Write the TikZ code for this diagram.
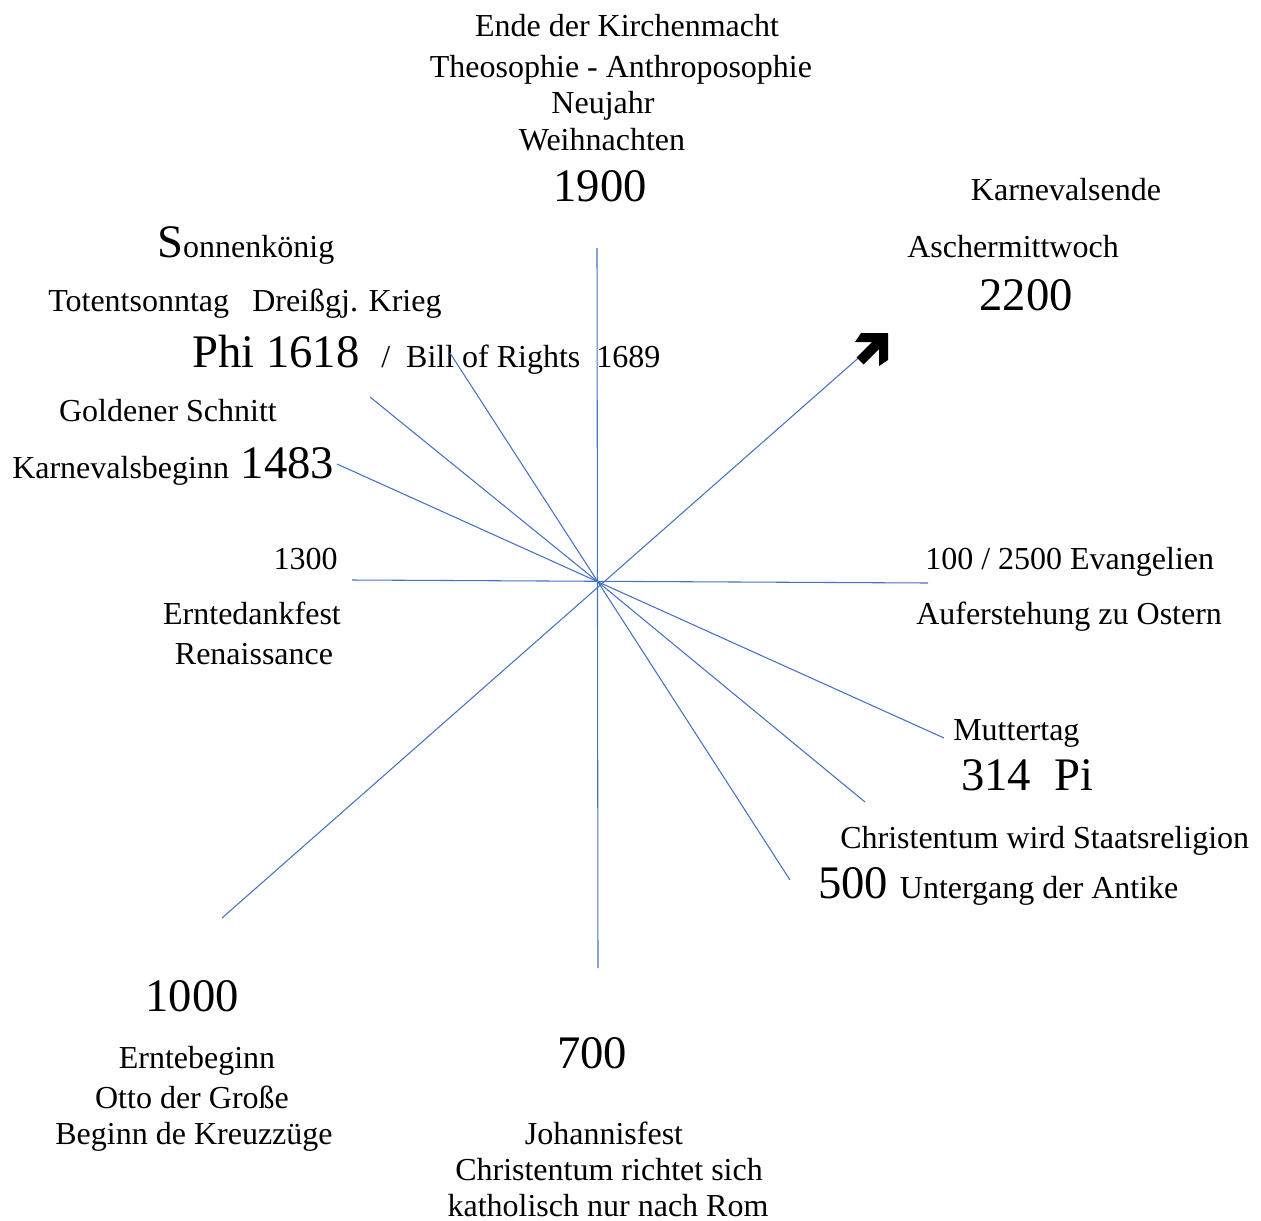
\documentclass[tikz,border=0pt]{standalone}
\usepackage{fontspec}
\setmainfont{Liberation Serif}
\usepackage{xcolor}
\usepackage{tikz}
\usetikzlibrary{positioning}
\usetikzlibrary{calc}

\definecolor{rayblue}{RGB}{68,114,196}
\newcommand{\bigtxt}{\fontsize{35}{40}\selectfont}

\begin{document}
\begin{tikzpicture}[x=0.75pt, y=-0.75pt, txt/.style={font=\fontsize{24}{28}\selectfont, inner sep=0pt, anchor=base}, num/.style={font=\bigtxt, inner sep=0pt, anchor=base}, ray/.style={draw=rayblue, line width=0.8pt}]
	\useasboundingbox (0,0) rectangle (1261,1221);
	% top
	\node[txt] (kirche) at (627,36) {Ende der Kirchenmacht};
	\node[txt] (theo) at (621,77) {Theosophie - Anthroposophie};
	\node[txt] (neujahr) at (603,113) {Neujahr};
	\node[txt] (weihn) at (602,150) {Weihnachten};
	\node[num] (y1900) at (600,201) {1900};
	% upper right
	\node[txt] (kende) at (1066,200) {Karnevalsende};
	\node[txt] (ascher) at (1013,257) {Aschermittwoch};
	\node[num] (y2200) at (1026,310) {2200};
	% upper left
	\node[txt, anchor=base west] (sonne) at (157,257) {{\bigtxt S}onnenkönig};
	\node[txt, anchor=base west] (toten) at (48,311) {Totentsonntag};
	\node[txt, anchor=base west] (krieg) at (252,311) {Dreißgj. Krieg};
	\node[num, anchor=base west] (y1618) at (192,367) {Phi 1618};
	\node[txt, anchor=base west] (bill) at (381,367) {/\ \ Bill of Rights\ \ 1689};
	\node[txt] (golden) at (168,421) {Goldener Schnitt};
	\node[txt, anchor=base west] (kbeginn) at (12,478) {Karnevalsbeginn{\bigtxt\ 1483}};
	\node[txt, anchor=base east] (y1300) at (338,569) {1300};
	\node[txt] (ernte) at (252,624) {Erntedankfest};
	\node[txt] (renais) at (254,664) {Renaissance};
	% right
	\node[txt, anchor=base west] (evang) at (925,569) {100 / 2500 Evangelien};
	\node[txt, anchor=base west] (ostern) at (916,624) {Auferstehung zu Ostern};
	\node[txt, anchor=base west] (mutter) at (953,740) {Muttertag};
	\node[num, anchor=base west] (y314) at (961,790) {314\ \ Pi};
	\node[txt, anchor=base west] (staat) at (840,848) {Christentum wird Staatsreligion};
	\node[txt, anchor=base west] (y500) at (818,898) {{\bigtxt 500\ }Untergang der Antike};
	% bottom
	\node[num] (y1000) at (192,1011) {1000};
	\node[txt] (erntebeg) at (197,1068) {Erntebeginn};
	\node[txt] (otto) at (192,1108) {Otto der Große};
	\node[txt] (kreuz) at (194,1144) {Beginn de Kreuzzüge};
	\node[num] (y700) at (592,1068) {700};
	\node[txt] (johannis) at (604,1144) {Johannisfest};
	\node[txt] (richtet) at (609,1180) {Christentum richtet sich};
	\node[txt] (rom) at (608,1216) {katholisch nur nach Rom};
	% rays
	\coordinate (c) at (598,582);
	\coordinate (n) at (597,248);
	\coordinate (s) at (598,968);
	\coordinate (w) at (352,580);
	\coordinate (e) at (928,583);
	\coordinate (sw) at (222,918);
	\coordinate (ne) at (872,346);
	\coordinate (nnw) at (450,353);
	\coordinate (nw) at (370,397);
	\coordinate (wnw) at (337,464);
	\coordinate (ese) at (944,738);
	\coordinate (se) at (865,802);
	\coordinate (sse) at (790,880);
	\path (n) edge[ray] (s)
	(w) edge[ray] (e)
	(sw) edge[ray] (ne)
	(wnw) edge[ray] (ese)
	(c) edge[ray] (nnw)
	(c) edge[ray] (nw)
	(c) edge[ray] (se)
	(c) edge[ray] (sse);
	% arrow head
	\begin{scope}[shift={(888,333)}]
		\fill[black] (0,0) -- (-27,0) -- (-33,9) -- (-16,9) -- (-31.5,24.5) -- (-24.5,31.5) -- (-9,16) -- (-9,33) -- (0,27) -- cycle;
	\end{scope}
\end{tikzpicture}
\end{document}
